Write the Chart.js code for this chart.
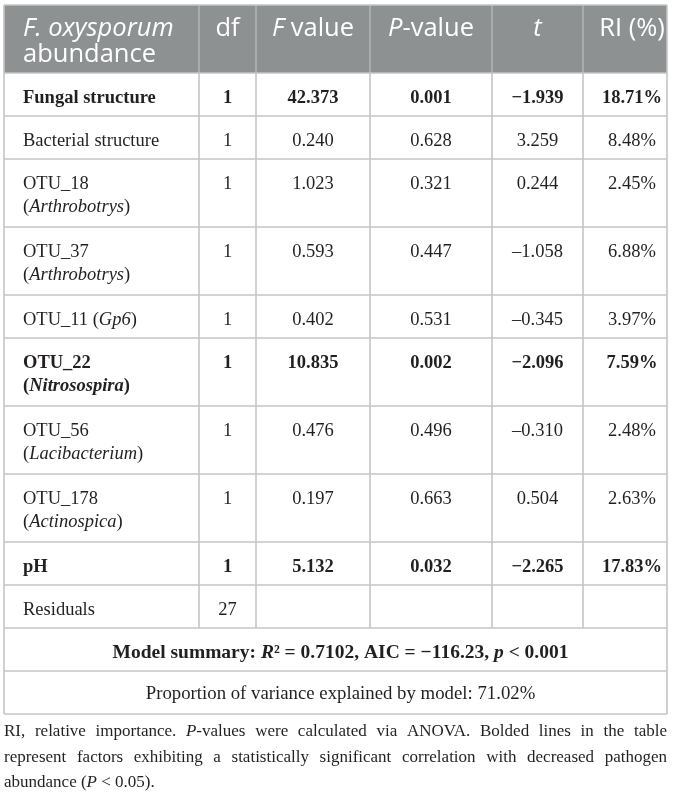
<!DOCTYPE html>
<html>
<head>
<meta charset="utf-8">
<script src="https://cdn.jsdelivr.net/npm/chart.js@4.4.0/dist/chart.umd.min.js"></script>
<style>
    html, body { margin: 0; padding: 0; background: #fff; }
    canvas { display: block; }
</style>
</head>
<body>
<canvas id="tableChart" width="673" height="795"></canvas>
<script>
//********************************************************************************//
//                            Data
//********************************************************************************//
// *...* marks italic text, \n a line break inside a cell
const headerLabels = ['*F. oxysporum*\nabundance', 'df', '*F* value', '*P*-value', '*t*', 'RI (%)'];
const rowLabels = [
    'Fungal structure',
    'Bacterial structure',
    'OTU_18\n(*Arthrobotrys*)',
    'OTU_37\n(*Arthrobotrys*)',
    'OTU_11 (*Gp6*)',
    'OTU_22\n(*Nitrosospira*)',
    'OTU_56\n(*Lacibacterium*)',
    'OTU_178\n(*Actinospica*)',
    'pH',
    'Residuals'
];
const dfValues = [1, 1, 1, 1, 1, 1, 1, 1, 1, 27];
const fValues = [42.373, 0.240, 1.023, 0.593, 0.402, 10.835, 0.476, 0.197, 5.132, null];
const pValues = [0.001, 0.628, 0.321, 0.447, 0.531, 0.002, 0.496, 0.663, 0.032, null];
const tValues = [-1.939, 3.259, 0.244, -1.058, -0.345, -2.096, -0.310, 0.504, -2.265, null];
const riValues = [18.71, 8.48, 2.45, 6.88, 3.97, 7.59, 2.48, 2.63, 17.83, null];
const significant = [true, false, false, false, false, true, false, false, true, false];

const modelR2 = 0.7102;
const modelAIC = -116.23;
const modelP = '< 0.001';
const varianceExplained = 71.02;

const footnoteLines = [
    'RI, relative importance. *P*-values were calculated via ANOVA. Bolded lines in the table',
    'represent factors exhibiting a statistically significant correlation with decreased pathogen',
    'abundance (*P* < 0.05).'
];

//********************************************************************************//
//                            Layout
//********************************************************************************//
const colEdges = [4, 199, 256, 370, 492, 583, 667];
const tableTop = 5;
const headerHeight = 68;
const lineRowHeight = 43;
const doubleRowHeight = 68;
const footnoteY = [732, 758, 783];

const serif = '"Liberation Serif", "Times New Roman", serif';
const sans = '"Open Sans", "Noto Sans", sans-serif';
const textColor = '#231f20';
const gridColor = '#c3c5c5';
const headerFill = '#8d9192';

//********************************************************************************//
//                            Helpers
//********************************************************************************//
var parseRuns = function (str) {
    return str.split('*').map(function (t, k) { return { t: t, i: k % 2 === 1 }; })
        .filter(function (r) { return r.t.length; });
};

var fontOf = function (run, size, bold, family) {
    return (run.i ? 'italic ' : '') + (bold ? 'bold ' : '') + size + 'px ' + family;
};

var runsWidth = function (ctx, runs, size, bold, family) {
    var w = 0;
    runs.forEach(function (r) {
        ctx.font = fontOf(r, size, bold, family);
        w += ctx.measureText(r.t).width;
    });
    return w;
};

var drawRuns = function (ctx, runs, x, y, align, size, bold, family) {
    var w = runsWidth(ctx, runs, size, bold, family);
    var cx = align === 'center' ? x - w / 2 : (align === 'right' ? x - w : x);
    runs.forEach(function (r) {
        ctx.font = fontOf(r, size, bold, family);
        ctx.fillText(r.t, cx, y);
        cx += ctx.measureText(r.t).width;
    });
};

var fmtT = function (v, bold) {
    if (v === null) return '';
    return (v < 0 ? (bold ? '\u2212' : '\u2013') : '') + Math.abs(v).toFixed(3);
};

var rowEdges = function () {
    var edges = [tableTop, tableTop + headerHeight];
    rowLabels.forEach(function (lab) {
        var lines = lab.split('\n').length;
        edges.push(edges[edges.length - 1] + (lines > 1 ? doubleRowHeight : lineRowHeight));
    });
    edges.push(edges[edges.length - 1] + lineRowHeight);
    edges.push(edges[edges.length - 1] + lineRowHeight);
    return edges;
};

//********************************************************************************//
//                            Table plugin
//********************************************************************************//
const tablePlugin = {
    id: 'tableDraw',
    afterDraw: function (chart) {
        var ctx = chart.ctx;
        var xs = chart.scales.x, ys = chart.scales.y;
        var X = function (v) { return xs.getPixelForValue(v); };
        var Y = function (v) { return ys.getPixelForValue(v); };
        var edges = rowEdges();
        var nRows = rowLabels.length;
        var left = X(colEdges[0]), right = X(colEdges[colEdges.length - 1]);

        ctx.save();

        // header
        ctx.fillStyle = headerFill;
        ctx.fillRect(left, Y(edges[0]), right - left, Y(edges[1]) - Y(edges[0]));
        ctx.strokeStyle = '#b3b6b7';
        ctx.lineWidth = 1.5;
        for (var c = 1; c < colEdges.length - 1; c++) {
            ctx.beginPath();
            ctx.moveTo(X(colEdges[c]), Y(edges[0]));
            ctx.lineTo(X(colEdges[c]), Y(edges[1]));
            ctx.stroke();
        }
        ctx.fillStyle = '#ffffff';
        ctx.textBaseline = 'alphabetic';
        var hsize = 25.5;
        headerLabels.forEach(function (lab, c) {
            lab.split('\n').forEach(function (line, li) {
                var runs = parseRuns(line);
                var y = Y(edges[0] + 31 + li * 25.5);
                if (c === 0) {
                    drawRuns(ctx, runs, X(colEdges[0] + 19), y, 'left', hsize, false, sans);
                } else {
                    var cx = (colEdges[c] + colEdges[c + 1]) / 2 + (c === 5 ? 7 : 0);
                    drawRuns(ctx, runs, X(cx), y, 'center', hsize, false, sans);
                }
            });
        });

        // grid lines
        ctx.strokeStyle = gridColor;
        ctx.lineWidth = 1.6;
        for (var r = 1; r < edges.length; r++) {
            ctx.beginPath();
            ctx.moveTo(left, Y(edges[r]));
            ctx.lineTo(right, Y(edges[r]));
            ctx.stroke();
        }
        for (var k = 0; k < colEdges.length; k++) {
            var full = (k === 0 || k === colEdges.length - 1);
            ctx.beginPath();
            ctx.moveTo(X(colEdges[k]), Y(full ? edges[0] : edges[1]));
            ctx.lineTo(X(colEdges[k]), Y(full ? edges[edges.length - 1] : edges[nRows + 1]));
            ctx.stroke();
        }
        ctx.beginPath();
        ctx.moveTo(left, Y(edges[0]));
        ctx.lineTo(right, Y(edges[0]));
        ctx.stroke();

        // body rows
        ctx.fillStyle = textColor;
        ctx.textBaseline = 'middle';
        var size = 18.5;
        rowLabels.forEach(function (lab, i) {
            var bold = significant[i];
            var top = edges[i + 1];
            lab.split('\n').forEach(function (line, li) {
                drawRuns(ctx, parseRuns(line), X(colEdges[0] + 19), Y(top + 25 + li * 23), 'left', size, bold, serif);
            });
            var cells = [
                String(dfValues[i]),
                fValues[i] === null ? '' : fValues[i].toFixed(3),
                pValues[i] === null ? '' : pValues[i].toFixed(3),
                fmtT(tValues[i], bold),
                riValues[i] === null ? '' : riValues[i].toFixed(2) + '%'
            ];
            cells.forEach(function (txt, c) {
                if (!txt) return;
                var cx = (colEdges[c + 1] + colEdges[c + 2]) / 2 + (c === 4 ? 7 : 0);
                drawRuns(ctx, [{ t: txt, i: false }], X(cx), Y(top + 25), 'center', size, bold, serif);
            });
        });

        // model summary rows
        var mid = (colEdges[0] + colEdges[colEdges.length - 1]) / 2 + 5;
        var summary = 'Model summary: *R*\u00b2 = ' + modelR2.toFixed(4) + ', AIC = \u2212' +
            Math.abs(modelAIC).toFixed(2) + ', *p* ' + modelP;
        drawRuns(ctx, parseRuns(summary), X(mid), Y(edges[nRows + 1] + 25), 'center', 19.5, true, serif);
        var variance = 'Proportion of variance explained by model: ' + varianceExplained.toFixed(2) + '%';
        drawRuns(ctx, parseRuns(variance), X(mid), Y(edges[nRows + 2] + 23), 'center', 18.8, false, serif);

        // footnote, justified
        var fsize = 17;
        footnoteLines.forEach(function (line, li) {
            var runs = parseRuns(line);
            var y = Y(footnoteY[li]);
            if (li === footnoteLines.length - 1) {
                drawRuns(ctx, runs, X(colEdges[0]), y, 'left', fsize, false, serif);
                return;
            }
            var words = [[]];
            runs.forEach(function (rn) {
                rn.t.split(' ').forEach(function (piece, k) {
                    if (k > 0) words.push([]);
                    if (piece) words[words.length - 1].push({ t: piece, i: rn.i });
                });
            });
            words = words.filter(function (w) { return w.length; });
            var widths = words.map(function (w) { return runsWidth(ctx, w, fsize, false, serif); });
            var total = widths.reduce(function (a, b) { return a + b; }, 0);
            var gap = (right - X(colEdges[0]) - total) / (words.length - 1);
            var x = X(colEdges[0]);
            words.forEach(function (w, k) {
                drawRuns(ctx, w, x, y, 'left', fsize, false, serif);
                x += widths[k] + gap;
            });
        });

        ctx.restore();
    }
};

//********************************************************************************//
//                            Chart
//********************************************************************************//
var TableChart = function () {
    var chart;
    var init = function () {
        chart = new Chart(document.getElementById('tableChart'), {
            type: 'scatter',
            data: { datasets: [] },
            options: {
                responsive: false,
                animation: false,
                layout: { padding: 0 },
                plugins: { legend: { display: false }, tooltip: { enabled: false } },
                scales: {
                    x: { type: 'linear', min: 0, max: 673, display: false },
                    y: { type: 'linear', min: 0, max: 795, reverse: true, display: false }
                }
            },
            plugins: [tablePlugin]
        });
    };
    return { init: init };
}();

window.addEventListener('load', function () {
    TableChart.init();
});
</script>
</body>
</html>
